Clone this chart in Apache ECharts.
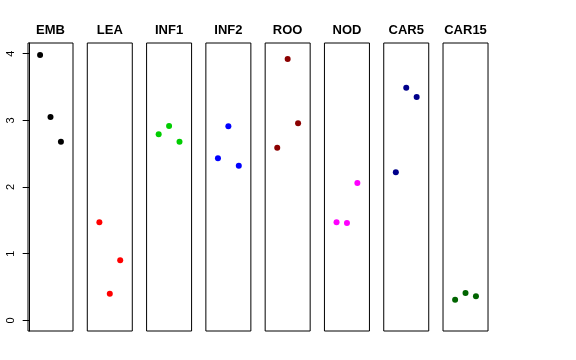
<!DOCTYPE html>
<html>
<head>
<meta charset="utf-8">
<script src="https://cdn.jsdelivr.net/npm/echarts@6/dist/echarts.min.js"></script>
<style>html,body{margin:0;padding:0;background:#fff;}#c{width:576px;height:360px;}</style>
</head>
<body>
<div id="c"></div>
<script>
var categories = ['EMB', 'LEA', 'INF1', 'INF2', 'ROO', 'NOD', 'CAR5', 'CAR15'];
var colors = ['#000000', '#FF0000', '#00CD00', '#0000FF', '#8B0000', '#FF00FF', '#00008B', '#006400'];
var replicate = [1, 2, 3];
var EMB = [3.98, 3.05, 2.68];
var LEA = [1.47, 0.40, 0.90];
var INF1 = [2.79, 2.915, 2.68];
var INF2 = [2.43, 2.91, 2.32];
var ROO = [2.59, 3.92, 2.955];
var NOD = [1.47, 1.46, 2.06];
var CAR5 = [2.22, 3.49, 3.35];
var CAR15 = [0.31, 0.41, 0.36];
var yTicks = [0, 1, 2, 3, 4];
var seriesValues = [EMB, LEA, INF1, INF2, ROO, NOD, CAR5, CAR15];

var font = 'Liberation Sans, Arial, Helvetica, sans-serif';
var left0 = 28, step = 59.29, pw = 45, top0 = 43, ph = 288;
var grids = [], xAxes = [], yAxes = [], series = [], titles = [];
categories.forEach(function (name, i) {
  var l = left0 + i * step;
  grids.push({left: l, top: top0, width: pw, height: ph, show: true, borderColor: '#000', borderWidth: 1, backgroundColor: 'transparent', containLabel: false});
  xAxes.push({type: 'value', gridIndex: i, min: -0.16, max: 4.16, show: false});
  yAxes.push({
    type: 'value', gridIndex: i, min: -0.16, max: 4.16,
    show: i === 0,
    splitLine: {show: false},
    axisLine: {show: i === 0, lineStyle: {color: '#000', width: 1}},
    axisTick: {show: i === 0, length: 7, inside: false, customValues: yTicks, lineStyle: {color: '#000', width: 1}},
    axisLabel: {show: i === 0, customValues: yTicks, rotate: 90, margin: 12, fontSize: 11, color: '#000', fontFamily: font}
  });
  series.push({
    type: 'scatter', xAxisIndex: i, yAxisIndex: i, symbol: 'circle', symbolSize: 6,
    itemStyle: {color: colors[i], opacity: 1},
    data: seriesValues[i].map(function (v, j) { return [replicate[j], v]; }),
    animation: false
  });
  titles.push({
    text: name, left: l + pw / 2, top: 24, textAlign: 'center', padding: 0,
    textStyle: {fontSize: 13, fontWeight: 'bold', color: '#000', fontFamily: font}
  });
});

var chart = echarts.init(document.getElementById('c'), null, {renderer: 'canvas'});
chart.setOption({
  animation: false,
  backgroundColor: '#fff',
  title: titles,
  grid: grids,
  xAxis: xAxes,
  yAxis: yAxes,
  series: series
});
</script>
</body>
</html>
